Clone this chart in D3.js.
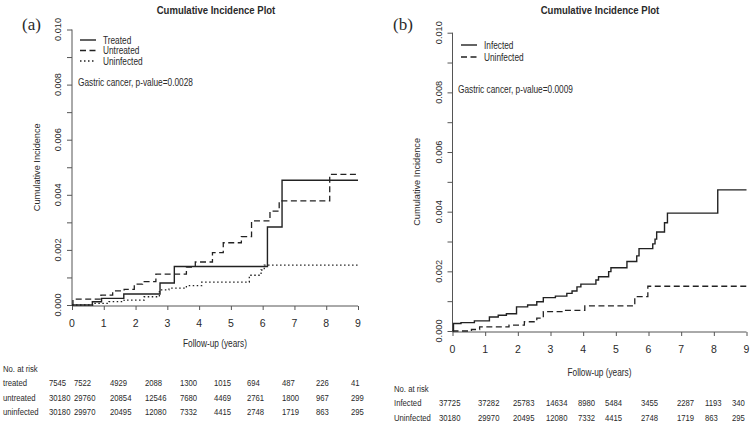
<!DOCTYPE html>
<html>
<head>
<meta charset="utf-8">
<script src="https://cdn.jsdelivr.net/npm/d3@7"></script>
<style>
  html, body { margin: 0; padding: 0; background: #fff; }
  svg { display: block; }
  text { font-family: "Liberation Sans", Arial, sans-serif; fill: #2a2a2a; }
</style>
</head>
<body>
<svg id="chart" width="752" height="423"></svg>
<script>
// ---------- data ----------
const xTicks = [0, 1, 2, 3, 4, 5, 6, 7, 8, 9];
const yTicks = [0, 0.001, 0.002, 0.003, 0.004, 0.005, 0.006, 0.007, 0.008, 0.009, 0.010];
const yLabelTicks = [0, 0.002, 0.004, 0.006, 0.008, 0.010];

// Panel (a)
const aTreatedT   = [0, 0.64, 0.93, 1.63, 2.77, 3.22, 6.15, 6.61, 9];
const aTreatedV   = [0, 0.00012, 0.00024, 0.0004, 0.0008, 0.0014, 0.00283, 0.00453, 0.00453];
const aUntreatedT = [0, 0.03, 0.91, 1.28, 1.64, 1.96, 2.22, 2.64, 3.6, 3.88, 4.42, 4.76, 5.33, 5.65, 6.23, 6.52, 8.11, 9];
const aUntreatedV = [0, 0.00021, 0.00036, 0.00051, 0.00057, 0.00076, 0.00085, 0.00112, 0.00138, 0.00156, 0.0019, 0.00226, 0.00248, 0.00305, 0.00341, 0.00378, 0.00474, 0.00474];
const aUninfectedT = [0, 0.65, 1.16, 1.64, 2.27, 2.75, 3.05, 3.6, 4.08, 5.58, 5.95, 6.05, 9];
const aUninfectedV = [0, 0.00006, 0.00012, 0.00018, 0.0003, 0.00055, 0.00061, 0.0007, 0.00083, 0.00108, 0.00127, 0.00145, 0.00145];

// Panel (b)
const bInfectedT = [0, 0.03, 0.26, 0.67, 1.13, 1.4, 1.65, 1.96, 2.3, 2.58, 2.78, 3.15, 3.5, 3.66, 3.81, 3.93, 4.39, 4.47, 4.78, 4.85, 5.34, 5.64, 5.71, 6.13, 6.2, 6.25, 6.49, 6.58, 8.12, 9];
const bInfectedV = [0, 0.00025, 0.00028, 0.00034, 0.00047, 0.00053, 0.00058, 0.00081, 0.00087, 0.00098, 0.00112, 0.00117, 0.00126, 0.00134, 0.00148, 0.00157, 0.00171, 0.00182, 0.00199, 0.00212, 0.00233, 0.00252, 0.00276, 0.00292, 0.00308, 0.00332, 0.00363, 0.00395, 0.00473, 0.00473];
const bUninfectedT = [0, 0.58, 0.83, 1.73, 2.2, 2.58, 2.78, 3.43, 4.05, 5.58, 5.98, 9];
const bUninfectedV = [0, 0.00005, 0.00014, 0.0002, 0.00031, 0.00043, 0.00065, 0.00069, 0.00084, 0.00115, 0.0015, 0.0015];

// risk tables
const aRiskRows = ["treated", "untreated", "uninfected"];
const aRiskTreated    = [7545, 7522, 4929, 2088, 1300, 1015, 694, 487, 226, 41];
const aRiskUntreated  = [30180, 29760, 20854, 12546, 7680, 4469, 2761, 1800, 967, 299];
const aRiskUninfected = [30180, 29970, 20495, 12080, 7332, 4415, 2748, 1719, 863, 295];
const bRiskRows = ["Infected", "Uninfected"];
const bRiskInfected   = [37725, 37282, 25783, 14634, 8980, 5484, 3455, 2287, 1193, 340];
const bRiskUninfected = [30180, 29970, 20495, 12080, 7332, 4415, 2748, 1719, 863, 295];

const titleText = "Cumulative Incidence Plot";
const xTitle = "Follow-up (years)";
const yTitle = "Cumulative Incidence";

// ---------- drawing ----------
const svg = d3.select("#chart");
const lineColor = "#222";
const axisColor = "#555";
const SX = 0.83; // horizontal squeeze of the sans labels

function zip(t, v) { return t.map((d, i) => ({t: d, v: v[i]})); }

function label(g, x, y, s, size, anchor, weight) {
  return g.append("text")
    .attr("transform", `translate(${x},${y}) scale(${SX},1)`)
    .attr("text-anchor", anchor || "start")
    .attr("font-size", size)
    .attr("font-weight", weight || "normal")
    .text(s);
}

function drawPanel(cfg) {
  const x = d3.scaleLinear().domain([0, 9]).range([cfg.x0, cfg.x1]);
  const y = d3.scaleLinear().domain([0, 0.010]).range([cfg.y0, cfg.y1]);
  const g = svg.append("g");

  // title
  label(g, cfg.titleX, 13.5, titleText, 11.5, "middle", "bold");
  // panel letter
  g.append("text").attr("x", cfg.letterX).attr("y", 30)
    .style("font-family", "'Liberation Serif', 'DejaVu Serif', serif")
    .attr("font-size", 17).text(cfg.letter);

  // y axis
  const ya = g.append("g").attr("transform", `translate(${cfg.x0},0)`)
    .call(d3.axisLeft(y).tickValues(yTicks).tickSize(5).tickFormat(""));
  ya.select(".domain").attr("stroke", axisColor).attr("d", `M0,${cfg.y0}V${cfg.y1}`);
  ya.selectAll(".tick line").attr("stroke", axisColor);
  yLabelTicks.forEach(v => {
    g.append("text")
      .attr("transform", `translate(${cfg.x0 - 11},${y(v)}) rotate(-90)`)
      .attr("text-anchor", "middle").attr("font-size", 9.2)
      .text(d3.format(".3f")(v));
  });
  g.append("text")
    .attr("transform", `translate(${cfg.yTitleX},${(cfg.y0 + cfg.y1) / 2}) rotate(-90)`)
    .attr("text-anchor", "middle").attr("font-size", 9.2)
    .text(yTitle);

  // x axis
  const xa = g.append("g").attr("transform", `translate(0,${cfg.y0 + 1})`)
    .call(d3.axisBottom(x).tickValues(xTicks).tickSize(4).tickFormat(""));
  xa.select(".domain").attr("stroke", axisColor).attr("d", `M${cfg.x0},0H${cfg.x1}`);
  xa.selectAll(".tick line").attr("stroke", axisColor);
  xTicks.forEach(v => {
    g.append("text").attr("x", x(v)).attr("y", cfg.y0 + 22)
      .attr("text-anchor", "middle").attr("font-size", 10.5).text(v);
  });
  label(g, (cfg.x0 + cfg.x1) / 2, cfg.xTitleY, xTitle, 10, "middle");

  // curves
  const line = d3.line().x(d => x(d.t)).y(d => y(d.v)).curve(d3.curveStepAfter);
  cfg.series.forEach(s => {
    g.append("path").datum(zip(s.t, s.v)).attr("d", line)
      .attr("fill", "none").attr("stroke", lineColor)
      .attr("stroke-width", s.width).attr("stroke-dasharray", s.dash);
  });

  // legend
  cfg.series.forEach((s, i) => {
    const ly = cfg.legendY + i * cfg.legendDy;
    g.append("line").attr("x1", cfg.legendX).attr("x2", cfg.legendX + 16)
      .attr("y1", ly).attr("y2", ly).attr("stroke", lineColor)
      .attr("stroke-width", s.width).attr("stroke-dasharray", s.dash);
    label(g, cfg.legendX + 23, ly + 3.5, s.name, 10);
  });
  label(g, cfg.pX, cfg.pY, cfg.pText, 10);

  // risk table
  label(g, cfg.riskLabelX, cfg.riskY0, "No. at risk", 9.3);
  cfg.riskRows.forEach((r, i) => {
    const ry = cfg.riskY0 + (i + 1) * cfg.riskDy;
    label(g, cfg.riskLabelX, ry, r, 9.3);
    cfg.riskData[i].forEach((v, j) => {
      label(g, cfg.riskCols[j], ry, v, 9.3);
    });
  });
}

drawPanel({
  letter: "(a)", letterX: 22, titleX: 216,
  x0: 72, x1: 358, y0: 305, y1: 29.5, yTitleX: 40, xTitleY: 347,
  series: [
    {name: "Treated", t: aTreatedT, v: aTreatedV, dash: null, width: 1.4},
    {name: "Untreated", t: aUntreatedT, v: aUntreatedV, dash: "6,3.5", width: 1.3},
    {name: "Uninfected", t: aUninfectedT, v: aUninfectedV, dash: "1.5,2.5", width: 1.3}
  ],
  legendX: 80, legendY: 40, legendDy: 10.5,
  pX: 78, pY: 86, pText: "Gastric cancer, p-value=0.0028",
  riskLabelX: 3, riskY0: 371.5, riskDy: 14.5,
  riskRows: aRiskRows, riskData: [aRiskTreated, aRiskUntreated, aRiskUninfected],
  riskCols: [49, 74, 110, 145, 180, 214, 247, 282, 316, 351]
});

drawPanel({
  letter: "(b)", letterX: 393, titleX: 600,
  x0: 452.5, x1: 746.5, y0: 331, y1: 32.7, yTitleX: 420, xTitleY: 376,
  series: [
    {name: "Infected", t: bInfectedT, v: bInfectedV, dash: null, width: 1.4},
    {name: "Uninfected", t: bUninfectedT, v: bUninfectedV, dash: "6,3.5", width: 1.3}
  ],
  legendX: 461, legendY: 45, legendDy: 12,
  pX: 458, pY: 93, pText: "Gastric cancer, p-value=0.0009",
  riskLabelX: 394, riskY0: 391.5, riskDy: 14.5,
  riskRows: bRiskRows, riskData: [bRiskInfected, bRiskUninfected],
  riskCols: [439, 478, 513, 546, 578, 605, 641, 677, 705, 732]
});
</script>
</body>
</html>
